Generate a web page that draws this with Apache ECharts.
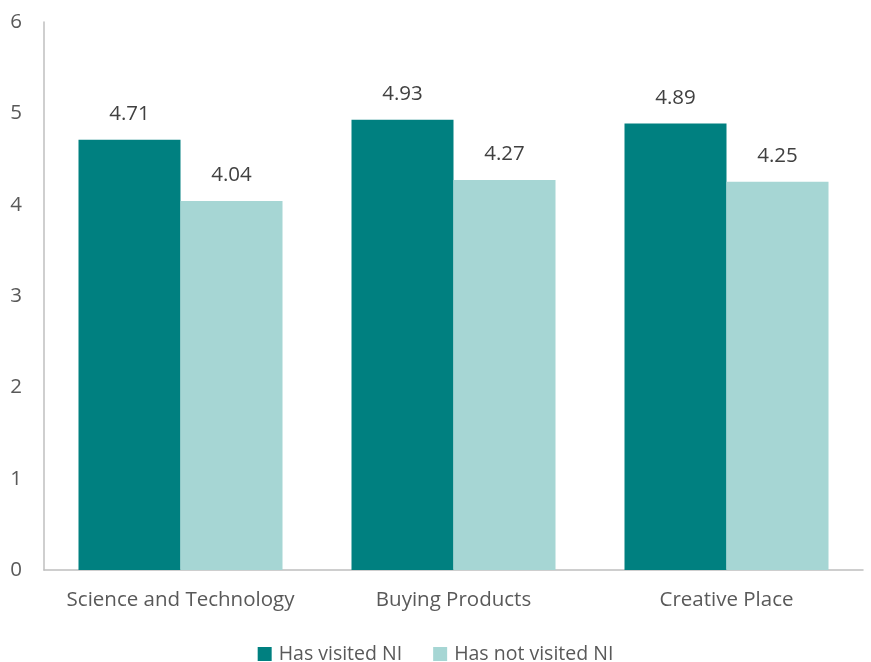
<!DOCTYPE html>
<html><head><meta charset="utf-8">
<script src="https://cdn.jsdelivr.net/npm/echarts@6/dist/echarts.min.js"></script>
<style>html,body{margin:0;padding:0;background:#fff}#c{width:871px;height:662px}</style>
</head><body><div id="c"></div>
<script>
const categories = ["Science and Technology", "Buying Products", "Creative Place"];
const visited = [4.71, 4.93, 4.89];
const notVisited = [4.04, 4.27, 4.25];
const seriesNames = ["Has visited NI", "Has not visited NI"];
const FONT = "'Open Sans', 'Liberation Sans', sans-serif";
const TXT = "#595959";
const FS = 20.5;
const chart = echarts.init(document.getElementById('c'));
const lbl = {show: true, position: 'top', distance: 15, color: '#404040', fontSize: FS, fontFamily: FONT, formatter: p => p.value.toFixed(2)};
chart.setOption({
  animation: false,
  grid: {left: 44, right: 8, top: 22, bottom: 92, containLabel: false},
  legend: {
    top: 644, left: 'center', itemWidth: 14, itemHeight: 14, itemGap: 31, padding: 0,
    icon: 'rect', textStyle: {color: TXT, fontSize: 19.5, fontFamily: FONT, padding: [0, 0, 0, 2]},
    data: seriesNames
  },
  xAxis: {
    type: 'category', data: categories,
    axisLine: {lineStyle: {color: '#bfbfbf', width: 1.5}},
    axisTick: {show: false},
    axisLabel: {color: TXT, fontSize: FS, fontFamily: FONT, margin: 20, interval: 0}
  },
  yAxis: {
    type: 'value', min: 0, max: 6, interval: 1,
    axisLine: {show: true, lineStyle: {color: '#bfbfbf', width: 1.5}},
    axisTick: {show: false},
    splitLine: {show: false},
    axisLabel: {color: TXT, fontSize: FS, fontFamily: FONT, margin: 22}
  },
  series: [
    {name: seriesNames[0], type: 'bar', data: visited, barWidth: 102, barGap: '0%', itemStyle: {color: '#008080'}, label: lbl},
    {name: seriesNames[1], type: 'bar', data: notVisited, barWidth: 102, itemStyle: {color: '#A6D6D4'}, label: lbl}
  ]
});
</script></body></html>
